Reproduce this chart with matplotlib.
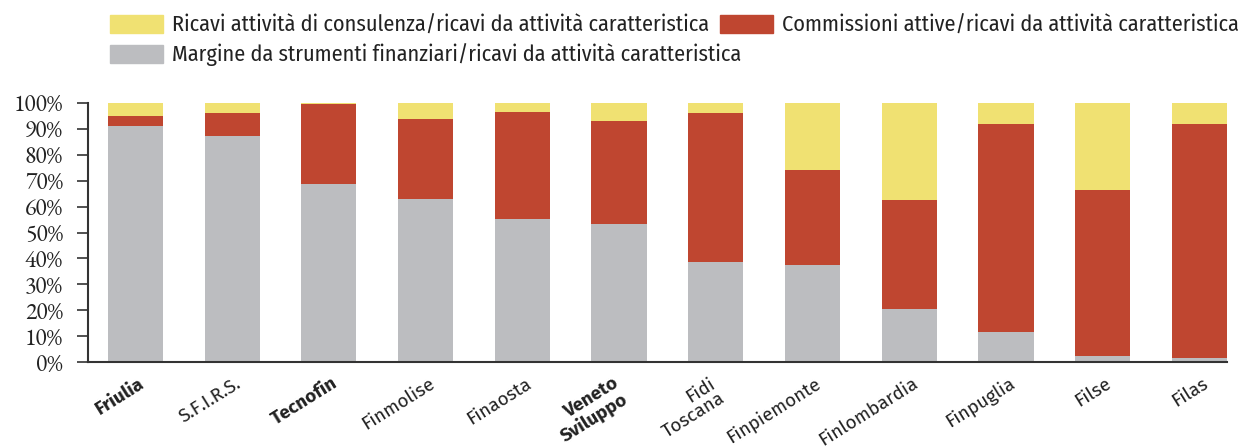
import numpy as np
import matplotlib
matplotlib.use("Agg")
import matplotlib.pyplot as plt
from matplotlib.patches import Rectangle
from matplotlib.transforms import ScaledTranslation

categories = ["Friulia", "S.F.I.R.S.", "Tecnofin", "Finmolise", "Finaosta",
              "Veneto\nSviluppo", "Fidi\nToscana", "Finpiemonte", "Finlombardia",
              "Finpuglia", "Filse", "Filas"]
bold_labels = ["Friulia", "Tecnofin", "Veneto\nSviluppo"]

# percent shares, bottom to top
margine = [91.0, 87.2, 68.7, 62.9, 55.2, 53.3, 38.6, 37.5, 20.5, 11.7, 2.4, 1.7]
commissioni = [3.9, 8.8, 30.8, 30.8, 41.2, 39.6, 57.4, 36.6, 42.0, 80.1, 64.0, 90.1]
consulenza = [100 - a - b for a, b in zip(margine, commissioni)]

legend_labels = ["Ricavi attività di consulenza/ricavi da attività caratteristica",
                 "Commissioni attive/ricavi da attività caratteristica",
                 "Margine da strumenti finanziari/ricavi da attività caratteristica"]

c_yellow = "#F0E172"
c_red = "#BF4630"
c_gray = "#BCBDC0"
cond = "Fira Sans Condensed"
sans = "Fira Sans"
serif = "EB Garamond"

W, H = 1252, 447
fig = plt.figure(figsize=(W / 100, H / 100), dpi=100)
ax = fig.add_axes([88 / W, 1 - 362.3 / H, (1227 - 88) / W, (362.3 - 102.7) / H])

x = np.arange(len(categories))
m = np.array(margine)
c = np.array(commissioni)
ax.bar(x, m, width=0.57, color=c_gray)
ax.bar(x, c, bottom=m, width=0.57, color=c_red)
ax.bar(x, consulenza, bottom=m + c, width=0.57, color=c_yellow)

ax.set_xlim(-0.49, 11.285)
ax.set_ylim(0, 100)
ax.set_yticks(np.arange(0, 101, 10))
ax.set_yticklabels([f"{v}%" for v in range(0, 101, 10)], fontfamily=serif, fontsize=17, color="#222222")
ax.tick_params(axis="y", length=8, width=1.2, color="#333333", pad=10)
ax.tick_params(axis="x", length=0)

for s in ["top", "right"]:
    ax.spines[s].set_visible(False)
for s in ["left", "bottom"]:
    ax.spines[s].set_color("#333333")
    ax.spines[s].set_linewidth(1.5)

# category labels, rotated, top-right corner just right of the bar centre
ax.set_xticks(x)
ax.set_xticklabels([])
offset = ScaledTranslation(12 / 100, -12 / 100, fig.dpi_scale_trans)
for xi, name in zip(x, categories):
    t = ax.text(xi, 0, name, ha="right", va="top", fontfamily=sans, fontsize=13.5,
                color="#222222", linespacing=1.0, multialignment="right",
                fontweight="bold" if name in bold_labels else "normal",
                transform=ax.get_xaxis_transform() + offset, clip_on=False)
    t.set_rotation(32)

# legend drawn by hand to follow the original layout
leg = [(110, 15, c_yellow, legend_labels[0]),
       (720, 15, c_red, legend_labels[1]),
       (110, 45, c_gray, legend_labels[2])]
for px, py, col, txt in leg:
    fig.patches.append(Rectangle((px / W, 1 - (py + 18) / H), 53 / W, 18 / H,
                                 transform=fig.transFigure, color=col))
    fig.text((px + 62) / W, 1 - (py + 10) / H, txt, fontfamily=cond, fontsize=16,
             color="#222222", va="center", ha="left")

fig.savefig("out.png", dpi=100)
